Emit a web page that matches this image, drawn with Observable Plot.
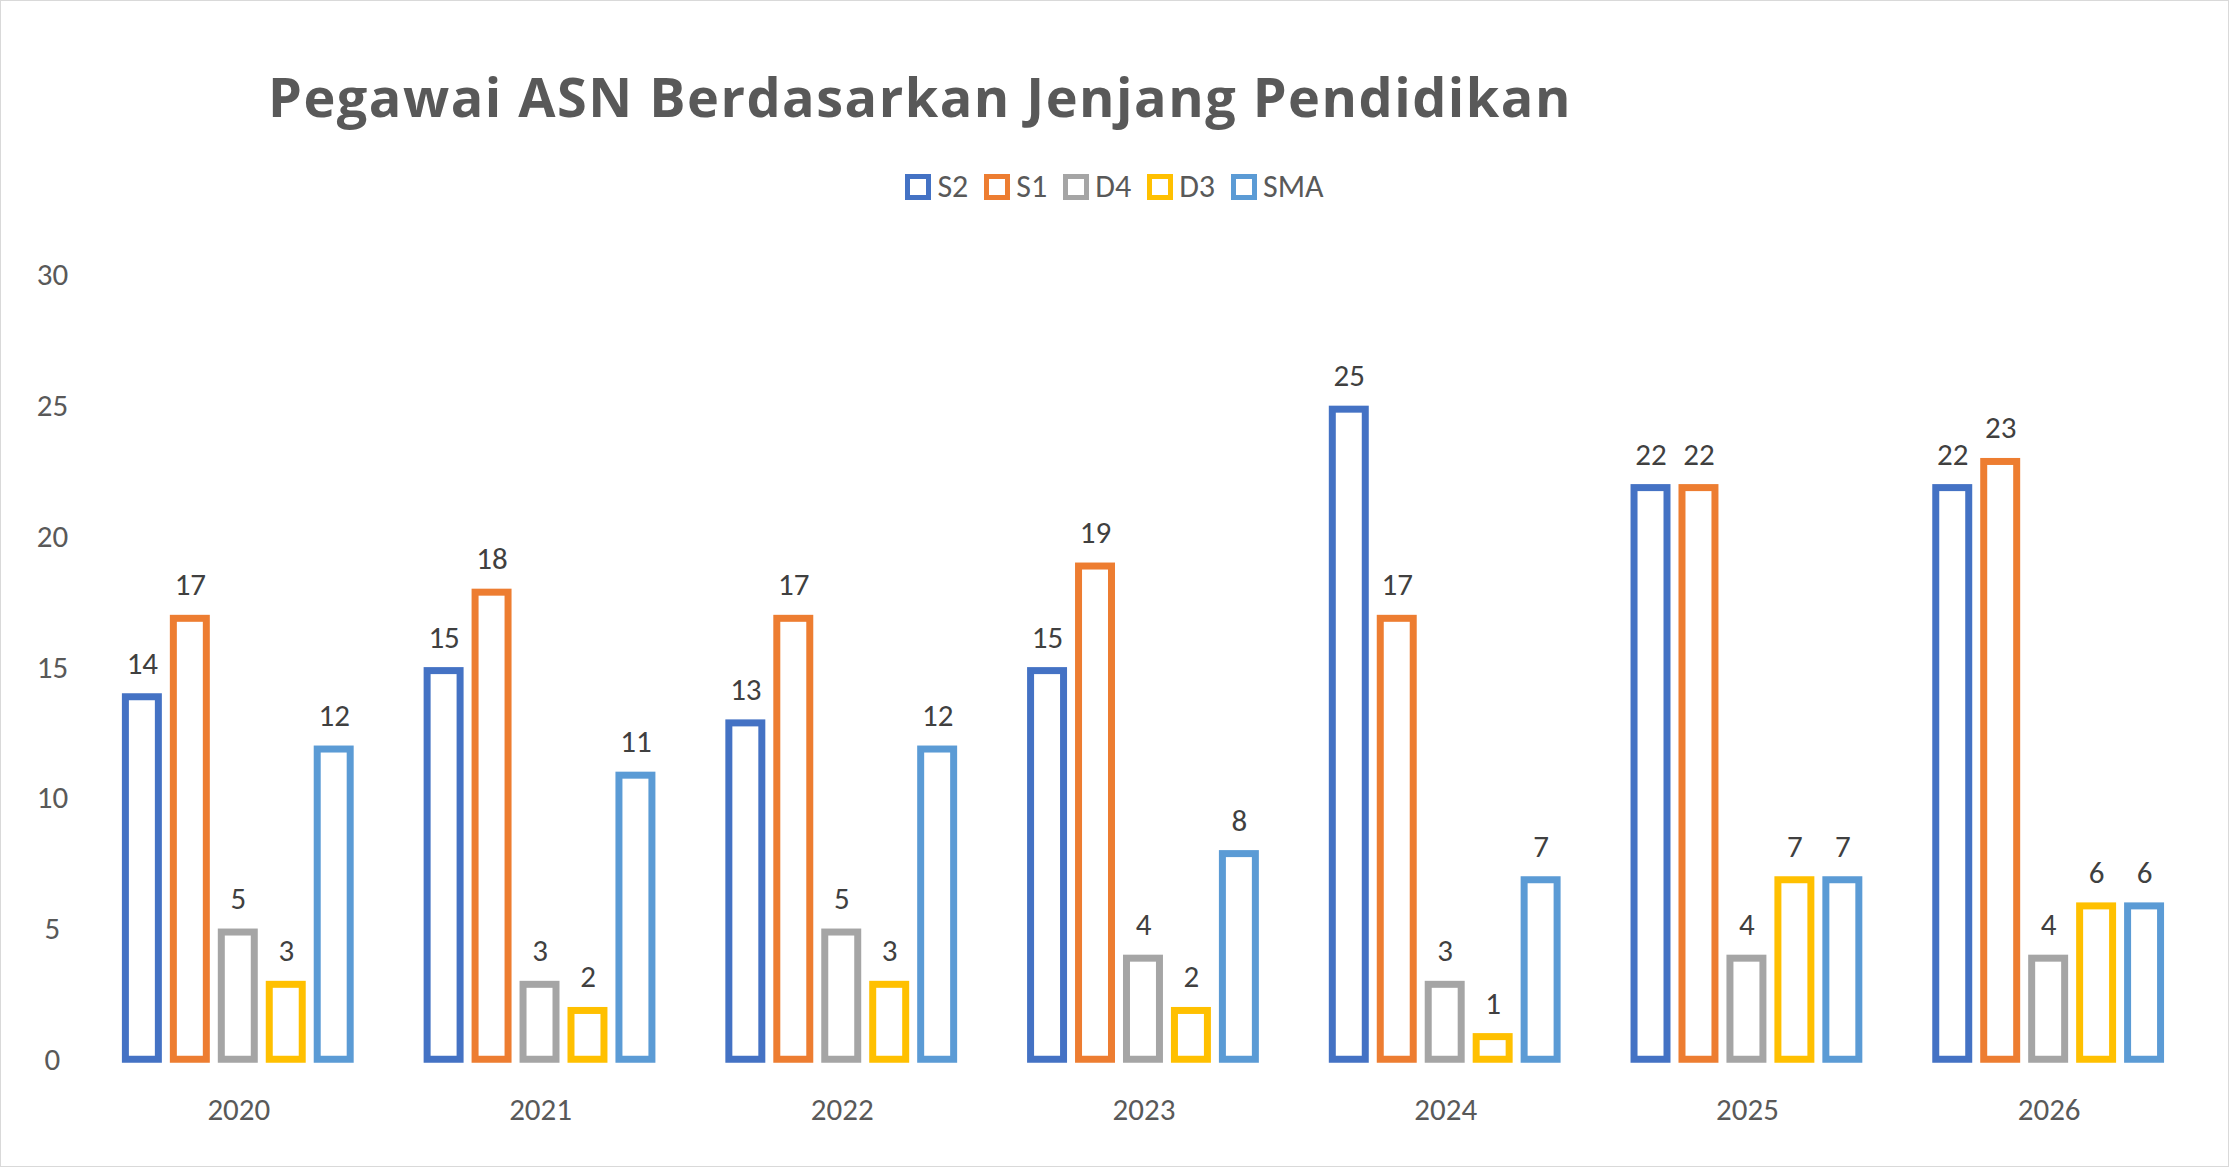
<!DOCTYPE html>
<html><head><meta charset="utf-8">
<script src="https://cdn.jsdelivr.net/npm/d3@7"></script>
<script src="https://cdn.jsdelivr.net/npm/@observablehq/plot@0.6"></script>
<style>
body{margin:0;background:#fff;font-family:Calibri,"Liberation Sans","Open Sans",sans-serif;}
#wrap{position:relative;width:2227px;height:1165px;border:1px solid #d9d9d9;overflow:hidden}
#title{position:absolute;left:267px;top:58px;font-size:54px;font-weight:bold;color:#595959;letter-spacing:1.5px;font-family:"Open Sans",sans-serif}
#legend{position:absolute;top:166px;left:0;width:100%;text-align:center;font-size:32px;color:#595959}
#legend span{margin:0 8px}
#legend i{display:inline-block;width:16px;height:16px;border:5px solid;margin-right:6px;vertical-align:-3px}
#chart{position:absolute;top:230px;left:0}
</style></head><body>
<div id="wrap"><div id="title">Pegawai ASN Berdasarkan Jenjang Pendidikan</div><div id="legend"></div><div id="chart"></div></div>
<script>
const years = ["2020","2021","2022","2023","2024","2025","2026"];
const series = ["S2","S1","D4","D3","SMA"];
const colors = ["#4472C4","#ED7D31","#A5A5A5","#FFC000","#5B9BD5"];
const S2 = [14,15,13,15,25,22,22];
const S1 = [17,18,17,19,17,22,23];
const D4 = [5,3,5,4,3,4,4];
const D3 = [3,2,3,2,1,7,6];
const SMA = [12,11,12,8,7,7,6];
const vals = {S2,S1,D4,D3,SMA};
const data = [];
years.forEach((y,i)=>series.forEach(s=>data.push({year:y,series:s,value:vals[s][i]})));
document.getElementById("legend").innerHTML = series.map((s,i)=>`<span><i style="border-color:${colors[i]}"></i>${s}</span>`).join("");
const chart = Plot.plot({
  width:2229, height:937, marginTop:44, marginBottom:108, marginLeft:111, marginRight:54,
  style:{fontSize:"31px",color:"#595959",fontFamily:"Calibri,'Liberation Sans',sans-serif",background:"transparent"},
  fx:{domain:years,padding:0.17,label:null,tickSize:0,tickPadding:38},
  x:{domain:series,padding:0.16,axis:null},
  y:{domain:[0,30],ticks:[0,5,10,15,20,25,30],label:null,tickSize:0,tickPadding:0},
  color:{domain:series,range:colors},
  marks:[
    Plot.axisY({ticks:[0,5,10,15,20,25,30],tickSize:0,anchor:"left",dx:-52,textAnchor:"middle",fontSize:31}),
    Plot.barY(data,{fx:"year",x:"series",y:"value",fill:"white",stroke:"series",strokeWidth:7,insetTop:3.5,insetLeft:3.5,insetRight:3.5}),
    Plot.text(data,{fx:"year",x:"series",y:"value",text:"value",dy:-30,fontSize:31,fill:"#404040"})
  ]
});
document.getElementById("chart").append(chart);
</script></body></html>
